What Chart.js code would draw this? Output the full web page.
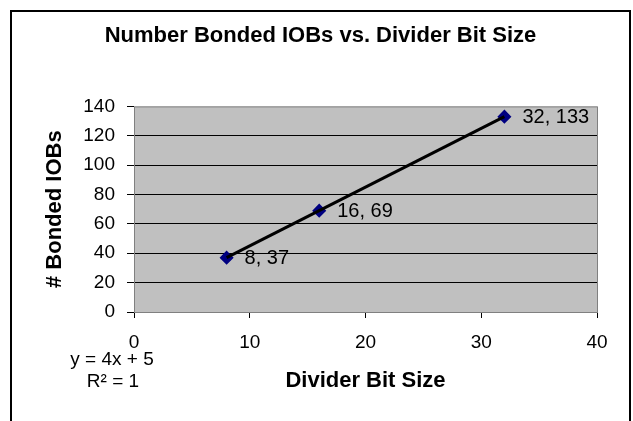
<!DOCTYPE html>
<html>
<head>
<meta charset="utf-8">
<title>Number Bonded IOBs vs. Divider Bit Size</title>
<script src="https://cdn.jsdelivr.net/npm/chart.js@4.4.1/dist/chart.umd.min.js"></script>
<style>
  html, body { margin: 0; padding: 0; background: #fff; }
  canvas { display: block; }
</style>
</head>
<body>
<canvas id="iob-chart" width="633" height="421"></canvas>
<script>
const bitSizes = [8, 16, 32];
const bondedIOBs = [37, 69, 133];
const xTicks = [0, 10, 20, 30, 40];
const yTicks = [0, 20, 40, 60, 80, 100, 120, 140];

// linear fit shown under the axis
const trendSlope = 4;
const trendIntercept = 5;
const trendR2 = 1;

const FONT = "'Liberation Sans', Arial, sans-serif";
Chart.defaults.font.family = FONT;
Chart.defaults.color = '#000';

const points = bitSizes.map((x, i) => ({ x, y: bondedIOBs[i] }));
const trendEnds = [bitSizes[0], bitSizes[bitSizes.length - 1]];
const trendPoints = trendEnds.map((x) => ({ x, y: trendSlope * x + trendIntercept }));

// white sheet with a black frame, grey plot area
const plotBackground = {
  id: 'plotBackground',
  beforeDraw(chart) {
    const { ctx, chartArea: a } = chart;
    ctx.save();
    ctx.fillStyle = '#fff';
    ctx.fillRect(0, 0, chart.width, chart.height);
    ctx.strokeStyle = '#000';
    ctx.lineWidth = 2;
    ctx.strokeRect(11, 11, 619, 440);
    ctx.fillStyle = '#c0c0c0';
    ctx.fillRect(a.left, a.top, a.right - a.left, a.bottom - a.top);
    ctx.restore();
  },
  beforeDatasetsDraw(chart) {
    const { ctx, chartArea: a } = chart;
    ctx.save();
    ctx.strokeStyle = '#808080';
    ctx.lineWidth = 1;
    ctx.strokeRect(a.left + 0.5, a.top + 0.5, a.right - a.left, a.bottom - a.top);
    ctx.restore();
  },
};

// "x, y" next to each marker
const pointLabels = {
  id: 'pointLabels',
  afterDatasetsDraw(chart) {
    const { ctx } = chart;
    const meta = chart.getDatasetMeta(1);
    ctx.save();
    ctx.font = `20px ${FONT}`;
    ctx.fillStyle = '#000';
    ctx.textBaseline = 'middle';
    meta.data.forEach((pt, i) => {
      ctx.fillText(`${bitSizes[i]}, ${bondedIOBs[i]}`, pt.x + 18, pt.y + 1);
    });
    ctx.restore();
  },
};

const trendLabel = {
  id: 'trendLabel',
  afterDraw(chart) {
    const { ctx } = chart;
    ctx.save();
    ctx.font = `19px ${FONT}`;
    ctx.fillStyle = '#000';
    ctx.textAlign = 'center';
    ctx.textBaseline = 'middle';
    ctx.fillText(`y = ${trendSlope}x + ${trendIntercept}`, 112, 360);
    ctx.fillText(`R\u00B2 = ${trendR2}`, 113, 382);
    ctx.restore();
  },
};

new Chart(document.getElementById('iob-chart'), {
  type: 'scatter',
  data: {
    datasets: [
      {
        label: 'Linear',
        data: trendPoints,
        showLine: true,
        borderColor: '#000',
        borderWidth: 3,
        pointRadius: 0,
        order: 0,
      },
      {
        label: 'Bonded IOBs',
        data: points,
        pointStyle: 'rectRot',
        pointRadius: 6,
        backgroundColor: '#000080',
        borderColor: '#000080',
        borderWidth: 1.5,
        order: 1,
      },
    ],
  },
  options: {
    responsive: false,
    animation: false,
    layout: { autoPadding: false, padding: { left: 10, top: 10, right: 2, bottom: 0 } },
    plugins: {
      legend: { display: false },
      tooltip: { enabled: false },
      title: {
        display: true,
        text: 'Number Bonded IOBs vs. Divider Bit Size',
        font: { size: 22, weight: 'bold' },
        padding: { top: 13, bottom: 57 },
      },
    },
    scales: {
      x: {
        type: 'linear',
        min: 0,
        max: 40,
        afterBuildTicks: (s) => { s.ticks = xTicks.map((v) => ({ value: v })); },
        afterFit: (s) => { s.height = 109; },
        ticks: { font: { size: 19 }, padding: 13 },
        grid: { drawOnChartArea: false, tickLength: 6, color: '#000' },
        border: { display: false },
        title: {
          display: true,
          text: 'Divider Bit Size',
          font: { size: 22, weight: 'bold' },
          padding: { top: 0, bottom: 27 },
        },
      },
      y: {
        min: 0,
        max: 140,
        afterBuildTicks: (s) => { s.ticks = yTicks.map((v) => ({ value: v })); },
        afterFit: (s) => { s.width = 124; },
        ticks: { font: { size: 19 }, padding: 12 },
        grid: {
          tickLength: 7,
          tickColor: '#000',
          color: (c) => (c.tick && (c.tick.value === 0 || c.tick.value === 140) ? 'rgba(0,0,0,0)' : '#000'),
        },
        border: { display: false },
        title: {
          display: true,
          text: '# Bonded IOBs',
          font: { size: 22, weight: 'bold' },
          padding: { top: 32, bottom: 0 },
        },
      },
      // empty strip that keeps the plot clear of the right edge of the frame
      rightGap: {
        type: 'linear',
        position: 'right',
        display: true,
        afterFit: (s) => { s.width = 34; },
        ticks: { display: false },
        grid: { display: false },
        border: { display: false },
      },
    },
  },
  plugins: [plotBackground, pointLabels, trendLabel],
});
</script>
</body>
</html>
